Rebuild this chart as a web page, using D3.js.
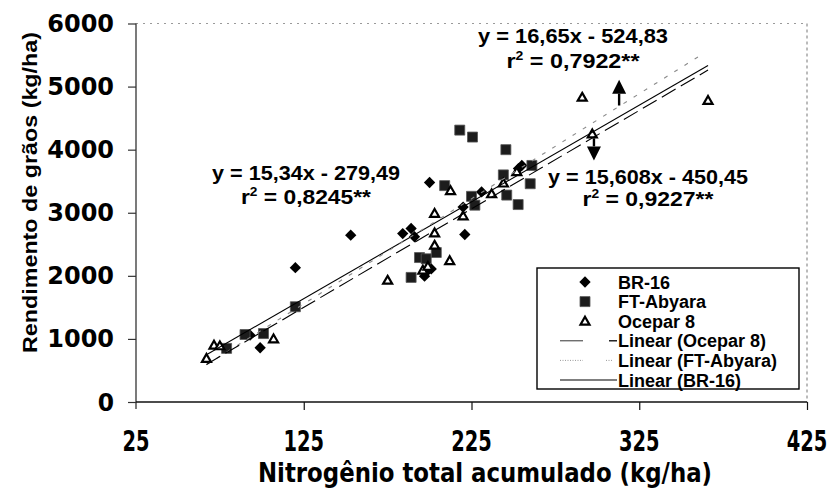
<!DOCTYPE html>
<html><head><meta charset="utf-8">
<script src="https://cdn.jsdelivr.net/npm/d3@7"></script>
<style>
html,body{margin:0;padding:0;background:#fff;}
svg{display:block;}
</style></head><body>
<svg id="chart" width="834" height="489"></svg>
<script>
// Grain yield against accumulated total nitrogen for three soybean cultivars,
// with a linear trend line per cultivar.

const xTicks = [25, 125, 225, 325, 425];
const yTicks = [0, 1000, 2000, 3000, 4000, 5000, 6000];

const cultivars = ["BR-16", "FT-Abyara", "Ocepar 8"];

// BR-16 (diamonds)
const br16N     = [93, 99, 120, 153, 184, 189, 191, 197, 198, 201, 200, 220, 221, 231, 253, 255];
const br16Yield = [1060, 860, 2130, 2645, 2670, 2750, 2620, 1995, 2060, 2110, 3480, 3090, 2655, 3330, 3700, 3750];

// FT-Abyara (squares)
const ftN     = [79, 90, 101, 120, 189, 194, 198, 204, 209, 218, 225.6, 225, 227, 244, 245.5, 246, 252.8, 260, 261];
const ftYield = [850, 1070, 1085, 1510, 1975, 2290, 2270, 2370, 3430, 4310, 4200, 3260, 3120, 3600, 4000, 3280, 3130, 3460, 3750];

// Ocepar 8 (open triangles)
const ocN     = [67, 71.5, 75, 107, 175, 196, 199, 203, 203, 203, 212, 212.5, 220, 237, 244, 252, 291, 297, 366];
const ocYield = [690, 900, 890, 1000, 1930, 2090, 2150, 2485, 2680, 2990, 2240, 3350, 2950, 3300, 3470, 3650, 4830, 4250, 4780];

// Fitted trend lines: y = a*x + b over the fitted N range
const trendSlope     = [15.34, 16.65, 15.608];
const trendIntercept = [-279.49, -524.83, -450.45];
const trendFrom      = [67, 67, 67];
const trendTo        = [366, 360, 366];
const trendR2        = ["0,8245", "0,7922", "0,9227"];
const trendEquation  = ["y = 15,34x - 279,49", "y = 16,65x - 524,83", "y = 15,608x - 450,45"];

// Arrows tying the two right-hand equations to their lines (data units)
const arrowN    = [313, 298];
const arrowFrom = [4700, 4180];
const arrowTo   = [5110, 3830];

const legendLabels = ["BR-16", "FT-Abyara", "Ocepar 8", "Linear (Ocepar 8)", "Linear (FT-Abyara)", "Linear (BR-16)"];

const svg = d3.select("#chart");
const W = 834, H = 489;
const plot = {left: 136, right: 807, top: 23.5, bottom: 402};

const x = d3.scaleLinear().domain([25, 425]).range([plot.left, plot.right]);
const y = d3.scaleLinear().domain([0, 6000]).range([plot.bottom, plot.top]);

const boldFont = "'Liberation Sans', Arial, sans-serif";
const wideFont = "'DejaVu Sans', Verdana, sans-serif";
const narrowFont = "'Liberation Sans Narrow', 'Arial Narrow', 'DejaVu Sans Condensed', sans-serif";

svg.append("rect").attr("width", W).attr("height", H).attr("fill", "#fff");

// frame: faint top and right edges
svg.append("line")
  .attr("x1", plot.left).attr("x2", plot.right).attr("y1", plot.top).attr("y2", plot.top)
  .attr("stroke", "#9a9a9a").attr("stroke-width", 1).attr("stroke-dasharray", "2,5");
svg.append("line")
  .attr("x1", plot.right).attr("x2", plot.right).attr("y1", plot.top).attr("y2", plot.bottom)
  .attr("stroke", "#777").attr("stroke-width", 1).attr("stroke-dasharray", "3,3");

// y axis
const yAxis = d3.axisLeft(y).tickValues(yTicks).tickSize(8).tickFormat("");
const gy = svg.append("g").attr("transform", `translate(${plot.left},0)`).call(yAxis);
gy.select(".domain").attr("stroke", "#333").attr("stroke-width", 1.3)
  .attr("d", `M0,${plot.top}V${plot.bottom + 7}`);
gy.selectAll(".tick line").attr("stroke", "#333").attr("stroke-width", 1.2);

svg.append("g").selectAll("text").data(yTicks).join("text")
  .attr("x", 114).attr("y", d => y(d) + 8.5)
  .attr("text-anchor", "end")
  .attr("font-family", wideFont).attr("font-weight", "bold").attr("font-size", 24)
  .attr("textLength", d => String(d).length * 16.8 - 0.5)
  .attr("lengthAdjust", "spacingAndGlyphs")
  .attr("fill", "#000")
  .text(d => d);

// x axis
const xAxis = d3.axisBottom(x).tickValues(xTicks.slice(1)).tickSize(8).tickFormat("");
const gx = svg.append("g").attr("transform", `translate(0,${plot.bottom})`).call(xAxis);
gx.select(".domain").attr("stroke", "#111").attr("stroke-width", 1.6)
  .attr("d", `M${plot.left},0H${plot.right}`);
gx.selectAll(".tick line").attr("stroke", "#111").attr("stroke-width", 1.2);

svg.append("g").selectAll("text").data(xTicks).join("text")
  .attr("x", d => x(d)).attr("y", 451)
  .attr("text-anchor", "middle")
  .attr("font-family", narrowFont).attr("font-weight", "bold").attr("font-size", 28)
  .attr("textLength", d => String(d).length * 13.5)
  .attr("lengthAdjust", "spacingAndGlyphs")
  .attr("fill", "#000")
  .text(d => d);

// axis titles
svg.append("text")
  .attr("x", 485).attr("y", 482)
  .attr("text-anchor", "middle")
  .attr("font-family", narrowFont).attr("font-weight", "bold").attr("font-size", 27)
  .attr("textLength", 454).attr("lengthAdjust", "spacingAndGlyphs")
  .text("Nitrogênio total acumulado (kg/ha)");

svg.append("text")
  .attr("transform", "translate(37,192.5) rotate(-90)")
  .attr("text-anchor", "middle")
  .attr("font-family", boldFont).attr("font-weight", "bold").attr("font-size", 21)
  .attr("textLength", 321).attr("lengthAdjust", "spacingAndGlyphs")
  .text("Rendimento de grãos (kg/ha)");

// markers
const diamondPath = d3.symbol().type(d3.symbolSquare).size(64)();
const squarePath = d3.symbol().type(d3.symbolSquare).size(100)();
const trianglePath = "M0,-4.4L4.5,3.4L-4.5,3.4Z";

const series = [
  {n: br16N, v: br16Yield},
  {n: ftN, v: ftYield},
  {n: ocN, v: ocYield}
];

function drawMarker(g, k) {
  if (k === 0) {
    g.append("path").attr("d", diamondPath).attr("transform", "rotate(45)").attr("fill", "#000");
  } else if (k === 1) {
    g.append("path").attr("d", squarePath).attr("fill", "#1c1c1c").attr("stroke", "#555").attr("stroke-width", 0.8);
  } else {
    g.append("path").attr("d", trianglePath).attr("fill", "#fff").attr("stroke", "#000").attr("stroke-width", 2.2);
  }
}

series.forEach((s, k) => {
  const pts = s.n.map((n, i) => [n, s.v[i]]);
  svg.append("g").selectAll("g").data(pts).join("g")
    .attr("transform", d => `translate(${x(d[0])},${y(d[1])})`)
    .each(function () { drawMarker(d3.select(this), k); });
});

// trend lines
const lineStyles = [
  {stroke: "#000", width: 1.1, dash: null},
  {stroke: "#8a8a8a", width: 1.1, dash: "4,8"},
  {stroke: "#000", width: 1.1, dash: "16,6"}
];
const line = d3.line().x(d => x(d[0])).y(d => y(d[1]));
[0, 1, 2].forEach(k => {
  const ends = [trendFrom[k], trendTo[k]].map(n => [n, trendSlope[k] * n + trendIntercept[k]]);
  svg.append("path").attr("d", line(ends))
    .attr("fill", "none")
    .attr("stroke", lineStyles[k].stroke)
    .attr("stroke-width", lineStyles[k].width)
    .attr("stroke-dasharray", lineStyles[k].dash);
});

// equations
const eqPos = [
  {cx: 306, y1: 180, w1: 188, y2: 204, w2: 130},
  {cx: 573, y1: 42.5, w1: 190, y2: 68, w2: 133},
  {cx: 648, y1: 184, w1: 200, y2: 206, w2: 131}
];
eqPos.forEach((p, k) => {
  svg.append("text")
    .attr("x", p.cx).attr("y", p.y1).attr("text-anchor", "middle")
    .attr("font-family", boldFont).attr("font-weight", "bold").attr("font-size", 20)
    .attr("textLength", p.w1).attr("lengthAdjust", "spacingAndGlyphs")
    .text(trendEquation[k]);
  const t = svg.append("text")
    .attr("x", p.cx).attr("y", p.y2).attr("text-anchor", "middle")
    .attr("font-family", boldFont).attr("font-weight", "bold").attr("font-size", 20)
    .attr("textLength", p.w2).attr("lengthAdjust", "spacingAndGlyphs");
  t.append("tspan").text("r");
  t.append("tspan").attr("font-size", 12).attr("dy", -8).text("2");
  t.append("tspan").attr("dy", 8).text(" = " + trendR2[k] + "**");
});

// arrows
arrowN.forEach((n, i) => {
  const x0 = x(n), yA = y(arrowFrom[i]), yB = y(arrowTo[i]);
  const dir = yB < yA ? -1 : 1;
  const headLen = 14, headHalf = 7;
  const yBase = yB - dir * headLen;
  svg.append("line").attr("x1", x0).attr("x2", x0).attr("y1", yA).attr("y2", yBase)
    .attr("stroke", "#000").attr("stroke-width", 2.4);
  svg.append("path")
    .attr("d", `M${x0},${yB}L${x0 - headHalf},${yBase}L${x0 + headHalf},${yBase}Z`)
    .attr("fill", "#000");
});

// legend
const lg = {x: 537, y: 268, w: 262, h: 121};
svg.append("rect").attr("x", lg.x).attr("y", lg.y).attr("width", lg.w).attr("height", lg.h)
  .attr("fill", "#fff").attr("stroke", "#000").attr("stroke-width", 1.4);

const rowY = d3.scaleLinear().domain([0, 5]).range([282, 380]);
legendLabels.forEach((label, i) => {
  const cy = rowY(i);
  if (i < 3) {
    const g = svg.append("g").attr("transform", `translate(585,${cy})`);
    drawMarker(g, i);
  } else {
    const k = [2, 1, 0][i - 3];
    if (k === 0) {
      svg.append("line").attr("x1", 560).attr("x2", 617).attr("y1", cy).attr("y2", cy)
        .attr("stroke", "#000").attr("stroke-width", 1.1);
    } else if (k === 1) {
      svg.append("line").attr("x1", 560).attr("x2", 583).attr("y1", cy).attr("y2", cy)
        .attr("stroke", "#999").attr("stroke-width", 1).attr("stroke-dasharray", "1,1.5");
      svg.append("line").attr("x1", 606).attr("x2", 612).attr("y1", cy).attr("y2", cy)
        .attr("stroke", "#999").attr("stroke-width", 1).attr("stroke-dasharray", "1,1.5");
    } else {
      svg.append("line").attr("x1", 560).attr("x2", 583).attr("y1", cy).attr("y2", cy)
        .attr("stroke", "#333").attr("stroke-width", 1);
      svg.append("line").attr("x1", 609).attr("x2", 617).attr("y1", cy).attr("y2", cy)
        .attr("stroke", "#000").attr("stroke-width", 1.3);
    }
  }
  svg.append("text")
    .attr("x", 618).attr("y", cy + 6.5)
    .attr("font-family", boldFont).attr("font-weight", "bold").attr("font-size", 18)
    .text(label);
});
</script>
</body></html>
